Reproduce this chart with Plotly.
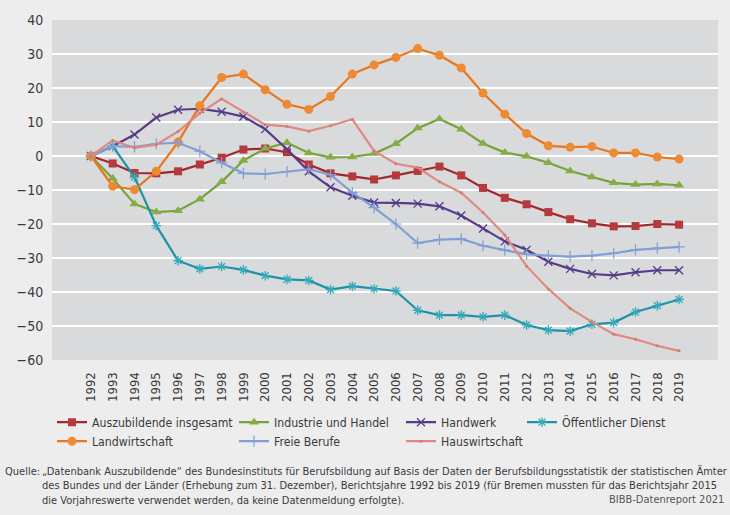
import plotly.graph_objects as go

years = [str(y) for y in range(1992, 2020)]

# Veraenderung gegenueber 1992 in Prozent
insgesamt = [0, -2.2, -5.0, -5.1, -4.5, -2.5, -0.5, 1.9, 2.2, 1.1, -2.5, -5.1, -6.0, -6.9,
             -5.7, -4.4, -3.1, -5.7, -9.4, -12.3, -14.2, -16.5, -18.6, -19.8, -20.7, -20.6, -20.0, -20.2]
industrie = [0, -6.6, -14.1, -16.5, -16.1, -12.7, -7.6, -1.3, 2.2, 3.9, 0.9, -0.4, -0.3, 0.7,
             3.6, 8.2, 10.9, 7.9, 3.7, 1.0, -0.1, -2.0, -4.4, -6.2, -7.9, -8.4, -8.2, -8.6]
handwerk = [0, 2.9, 6.3, 11.3, 13.6, 13.9, 13.0, 11.6, 7.9, 2.0, -4.5, -9.2, -11.7, -13.7,
            -13.8, -14.0, -14.8, -17.5, -21.3, -25.1, -27.6, -31.1, -33.2, -34.7, -35.1, -34.2, -33.6, -33.6]
oeffentlich = [0, 2.9, -6.2, -20.5, -30.8, -33.2, -32.5, -33.5, -35.2, -36.3, -36.6, -39.3, -38.3, -39.1,
               -39.7, -45.4, -46.8, -46.8, -47.3, -46.8, -49.7, -51.2, -51.5, -49.5, -49.0, -45.9, -44.0, -42.2]
landwirtschaft = [0, -8.9, -9.9, -4.5, 4.1, 14.8, 23.1, 24.1, 19.5, 15.2, 13.7, 17.5, 24.1, 26.8,
                  29.0, 31.6, 29.6, 25.9, 18.5, 12.3, 6.6, 3.0, 2.6, 2.8, 0.9, 0.9, -0.3, -0.9]
freie = [0, 2.9, 2.7, 3.6, 3.9, 1.4, -2.0, -5.1, -5.3, -4.6, -3.9, -5.5, -10.8, -15.2,
         -20.0, -25.6, -24.6, -24.4, -26.4, -27.7, -28.9, -29.3, -29.6, -29.3, -28.6, -27.6, -27.1, -26.7]
hauswirtschaft = [0, 4.6, 2.4, 3.3, 7.2, 12.6, 16.8, 12.9, 9.2, 8.7, 7.3, 8.9, 10.8, 1.5,
                  -2.3, -3.4, -7.6, -10.8, -16.6, -23.2, -32.4, -39.1, -44.8, -48.8, -52.4, -53.9, -55.8, -57.3]

FONT = "Liberation Sans Narrow, DejaVu Sans Condensed, Arial Narrow, sans-serif"
TXT = "#3a3a3a"

# name, values, line colour, marker, legend
series = [
    ("Auszubildende insgesamt", insgesamt, "#a3262c",
     dict(symbol="square", size=8, color="#b43a3d"), "legend"),
    ("Industrie und Handel", industrie, "#78a23a",
     dict(symbol="triangle-up", size=9, color="#86ad45"), "legend2"),
    ("Handwerk", handwerk, "#563b87",
     dict(symbol="x-thin-open", size=8, color="#563b87", line=dict(width=1.3, color="#563b87")), "legend3"),
    ("Öffentlicher Dienst", oeffentlich, "#1c93a6",
     dict(symbol="asterisk-open", size=8, color="#33a9bb", line=dict(width=1.3, color="#33a9bb")), "legend4"),
    ("Landwirtschaft", landwirtschaft, "#e8761c",
     dict(symbol="circle", size=9, color="#ed8a33"), "legend"),
    ("Freie Berufe", freie, "#7f9fd5",
     dict(symbol="cross-thin-open", size=8, color="#7f9fd5", line=dict(width=1.2, color="#7f9fd5")), "legend2"),
    ("Hauswirtschaft", hauswirtschaft, "#de8a82",
     dict(symbol="circle", size=3, color="#d97a72"), "legend3"),
]

fig = go.Figure()
for name, vals, col, mk, lg in series:
    fig.add_trace(go.Scatter(
        x=years, y=vals, name=name, mode="lines+markers", legendgroup=name,
        line=dict(color=col, width=2.2), marker=mk, legend=lg,
    ))

L, R, T, B = 52, 12, 18, 155
W, H = 730, 515
pw, ph = W - L - R, H - T - B


def px(xp):
    return (xp - L) / pw


def py(yp):
    return (H - B - yp) / ph


leg = dict(orientation="v", xanchor="left", yanchor="top", bgcolor="rgba(0,0,0,0)",
           font=dict(family=FONT, size=12.2, color=TXT), itemwidth=30, tracegroupgap=0)

fig.update_layout(
    width=W, height=H,
    margin=dict(l=L, r=R, t=T, b=B),
    paper_bgcolor="#ededee",
    plot_bgcolor="#d9dadb",
    font=dict(family=FONT, size=12, color=TXT),
    hovermode=False,
    legend=dict(leg, x=px(52), y=py(408)),
    legend2=dict(leg, x=px(234), y=py(408)),
    legend3=dict(leg, x=px(401), y=py(408)),
    legend4=dict(leg, x=px(522), y=py(408)),
    xaxis=dict(
        type="category", tickangle=-90, showgrid=False, zeroline=False,
        ticks="outside", ticklen=6, tickcolor="rgba(0,0,0,0)",
        tickfont=dict(family=FONT, size=13, color=TXT),
    ),
    yaxis=dict(
        range=[-60, 40], dtick=10, showgrid=True, gridcolor="#ffffff", gridwidth=1.5,
        zeroline=False, ticks="outside", ticklen=5, tickcolor="rgba(0,0,0,0)",
        tickfont=dict(family=FONT, size=14, color=TXT),
    ),
)

src = ("„Datenbank Auszubildende“ des Bundesinstituts für Berufsbildung auf Basis der Daten der "
       "Berufsbildungsstatistik der statistischen Ämter<br>des Bundes und der Länder (Erhebung zum "
       "31. Dezember), Berichtsjahre 1992 bis 2019 (für Bremen mussten für das Berichtsjahr 2015"
       "<br>die Vorjahreswerte verwendet werden, da keine Datenmeldung erfolgte).")
fig.add_annotation(xref="paper", yref="paper", x=px(3), y=py(464), xanchor="left", yanchor="top",
                   text="Quelle:", showarrow=False, align="left",
                   font=dict(family=FONT, size=11, color=TXT))
fig.add_annotation(xref="paper", yref="paper", x=px(40), y=py(464), xanchor="left", yanchor="top",
                   text=src, showarrow=False, align="left",
                   font=dict(family=FONT, size=11, color=TXT))
fig.add_annotation(xref="paper", yref="paper", x=px(726), y=py(500), xanchor="right", yanchor="middle",
                   text="BIBB-Datenreport 2021", showarrow=False,
                   font=dict(family=FONT, size=11, color="#555555"))

fig.write_html("out.html", config={"displayModeBar": False},
               post_script="document.body.style.margin='0';")
